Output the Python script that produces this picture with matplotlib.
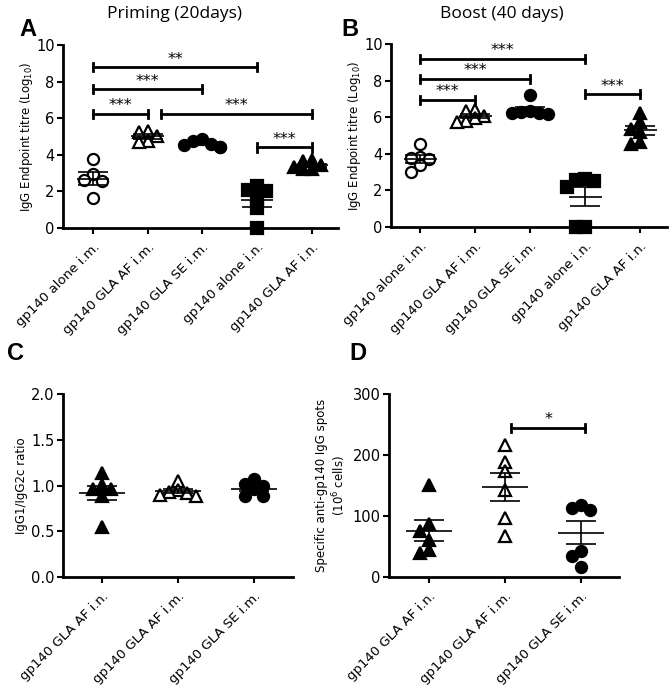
import numpy as np
import matplotlib.pyplot as plt

plt.rcParams['font.family'] = 'DejaVu Sans'

# group names
groups_ab = ['gp140 alone i.m.', 'gp140 GLA AF i.m.', 'gp140 GLA SE i.m.',
             'gp140 alone i.n.', 'gp140 GLA AF i.n.']
groups_cd = ['gp140 GLA AF i.n.', 'gp140 GLA AF i.m.', 'gp140 GLA SE i.m.']

# A - priming (20 days), log10 endpoint titre
prime = [[3.75, 2.95, 2.6, 2.55, 1.65],
         [5.3, 5.25, 5.0, 4.75, 4.7],
         [4.85, 4.75, 4.6, 4.55, 4.45, 4.45],
         [2.3, 2.05, 2.0, 1.6, 1.1, 0.0],
         [3.7, 3.65, 3.45, 3.35, 3.25, 3.2]]

# B - boost (40 days)
boost = [[4.55, 3.85, 3.75, 3.7, 3.4, 3.0],
         [6.4, 6.35, 6.05, 5.95, 5.8, 5.75],
         [7.2, 6.35, 6.3, 6.25, 6.2, 6.15],
         [2.6, 2.55, 2.5, 2.2, 0.0, 0.0],
         [6.2, 5.75, 5.35, 5.2, 4.65, 4.55]]

# C - IgG1/IgG2c ratio
ratio = [[1.14, 1.01, 0.96, 0.96, 0.89, 0.55],
         [1.05, 0.95, 0.93, 0.92, 0.90, 0.89],
         [1.07, 1.02, 0.99, 0.96, 0.88, 0.88]]

# D - specific anti-gp140 IgG spots per 10^6 cells
spots = [[151, 87, 75, 61, 44, 39],
         [217, 188, 173, 143, 97, 68],
         [118, 113, 110, 43, 34, 16]]

# significance bars: (from group, to group, height, label)
sig_prime = [(0, 3, 8.8, '**'), (0, 2, 7.6, '***'), (0, 1, 6.25, '***'),
             (1.25, 4, 6.25, '***'), (3, 4, 4.4, '***')]
sig_boost = [(0, 3, 9.2, '***'), (0, 2, 8.1, '***'), (0, 1, 6.95, '***'),
             (3, 4, 7.25, '***')]
sig_spots = [(1.08, 2.05, 245, '*')]

styles_ab = [('o', 'white'), ('^', 'white'), ('o', 'black'), ('s', 'black'), ('^', 'black')]
styles_cd = [('^', 'black'), ('^', 'white'), ('o', 'black')]
msize = {'o': 8, '^': 9, 's': 8}


def swarm(vals, ax, step_px=9, tall_px=8):
    # spread points sideways so markers do not sit on top of each other
    x0, x1 = ax.get_xlim()
    y0, y1 = ax.get_ylim()
    ppx = ax.bbox.width / (x1 - x0)
    ppy = ax.bbox.height / (y1 - y0)
    placed = []
    for v in vals:
        for k in [0, -1, 1, -0.5, 0.5, -1.5, 1.5, -2, 2]:
            if all(not (abs(k - pk) < 0.9 and abs(v - pv) * ppy < tall_px)
                   for pk, pv in placed):
                break
        placed.append((k, v))
    return [p[0] * step_px / ppx for p in placed]


def panel(ax, data, styles, labels, xlim, ylim, yticks, sigs, halfw=0.3, cap=11):
    ax.set_xlim(xlim)
    ax.set_ylim(ylim)
    for i, vals in enumerate(data):
        vals = np.array(vals, dtype=float)
        offs = swarm(vals, ax)
        m, fc = styles[i]
        ax.plot(i + np.array(offs), vals, linestyle='none', marker=m, markersize=msize[m],
                markerfacecolor=fc, markeredgecolor='black', markeredgewidth=1.6,
                clip_on=False, zorder=3)
        mean = vals.mean()
        sem = vals.std(ddof=1) / np.sqrt(len(vals))
        ax.hlines(mean, i - halfw, i + halfw, color='black', lw=1.2, zorder=4)
        ax.errorbar(i, mean, yerr=sem, color='black', lw=1.2, capsize=cap,
                    capthick=1.2, zorder=4)
    dy = (ylim[1] - ylim[0]) * 0.022
    for a, b, h, s in sigs:
        ax.plot([a, b], [h, h], color='black', lw=2)
        ax.plot([a, a], [h - dy, h + dy], color='black', lw=2)
        ax.plot([b, b], [h - dy, h + dy], color='black', lw=2)
        ax.text((a + b) / 2, h + dy * 0.1, s, ha='center', va='bottom', fontsize=11.5)
    ax.set_xticks(range(len(labels)))
    ax.set_xticklabels(labels, rotation=45, ha='right', rotation_mode='anchor',
                       fontsize=9.5)
    ax.set_yticks(yticks)
    ax.tick_params(axis='y', labelsize=10.5, width=1.5, length=4, pad=2)
    ax.tick_params(axis='x', width=1.5, length=4, pad=5)
    for s in ['top', 'right']:
        ax.spines[s].set_visible(False)
    for s in ['left', 'bottom']:
        ax.spines[s].set_linewidth(2)


fig = plt.figure(figsize=(6.72, 6.92), dpi=100)
axA = fig.add_axes([0.09375, 0.6705, 0.409, 0.2645])
axB = fig.add_axes([0.5818, 0.672, 0.4107, 0.2645])
axC = fig.add_axes([0.09375, 0.1662, 0.3423, 0.2644])
axD = fig.add_axes([0.5789, 0.1662, 0.3423, 0.2644])

panel(axA, prime, styles_ab, groups_ab, (-0.55, 4.48), (0, 10), range(0, 11, 2), sig_prime)
panel(axB, boost, styles_ab, groups_ab, (-0.53, 4.49), (0, 10), range(0, 11, 2), sig_boost)
panel(axC, ratio, styles_cd, groups_cd, (-0.51, 2.51), (0, 2), [0, 0.5, 1.0, 1.5, 2.0], [])
panel(axD, spots, styles_cd, groups_cd, (-0.53, 2.5), (0, 300), [0, 100, 200, 300], sig_spots)

axC.set_yticklabels(['0.0', '0.5', '1.0', '1.5', '2.0'])

axA.set_ylabel('IgG Endpoint titre (Log$_{10}$)', fontsize=8.5, labelpad=1)
axB.set_ylabel('IgG Endpoint titre (Log$_{10}$)', fontsize=8.5, labelpad=1)
axC.set_ylabel('IgG1/IgG2c ratio', fontsize=8.5, labelpad=2)
axD.set_ylabel('Specific anti-gp140 IgG spots\n(10$^6$ cells)', fontsize=8.5, labelpad=3)

fig.text(174 / 672, 1 - 14 / 692, 'Priming (20days)', ha='center', va='center',
         fontsize=12.5, family='Open Sans')
fig.text(502 / 672, 1 - 14 / 692, 'Boost (40 days)', ha='center', va='center',
         fontsize=12.5, family='Open Sans')

for lab, x, y in [('A', 28, 29), ('B', 350, 29), ('C', 15, 354), ('D', 358, 354)]:
    fig.text(x / 672, 1 - y / 692, lab, ha='center', va='center', fontsize=17,
             fontweight='bold', family='Liberation Sans')

fig.savefig('out.png', dpi=100)
